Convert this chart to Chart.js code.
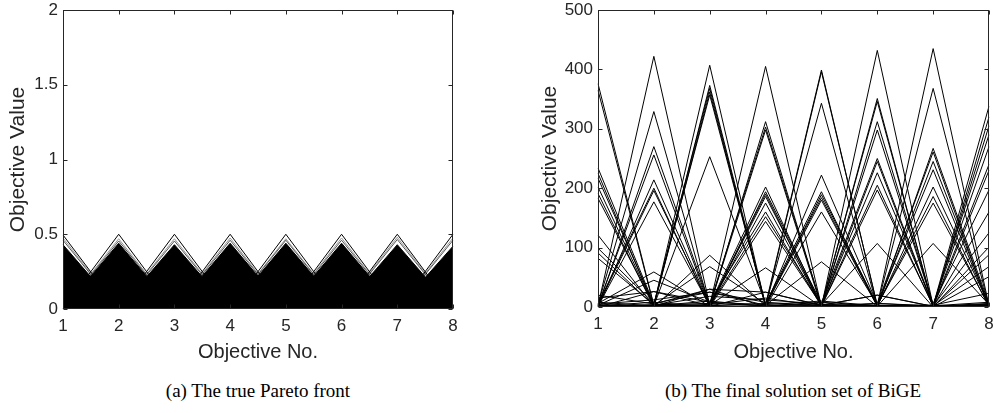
<!DOCTYPE html>
<html>
<head>
<meta charset="utf-8">
<script src="https://cdn.jsdelivr.net/npm/chart.js@4.4.1/dist/chart.umd.min.js"></script>
<style>
body { margin: 0; background: #fff; width: 993px; height: 413px; position: relative; overflow: hidden; }
canvas { position: absolute; top: 0; }
#front { left: 0; }
#bige { left: 520px; }
.caption { position: absolute; top: 380px; font-family: "Liberation Serif", serif; font-size: 19px; color: #000; transform: translateX(-50%); white-space: nowrap; }
</style>
</head>
<body>
<canvas id="front" width="480" height="372"></canvas>
<canvas id="bige" width="473" height="372"></canvas>
<div class="caption" style="left:258px">(a) The true Pareto front</div>
<div class="caption" style="left:793px">(b) The final solution set of BiGE</div>
<script>
const objectives = ['1', '2', '3', '4', '5', '6', '7', '8'];

// true front: value each boundary member takes on its own objective (0 on the others)
const frontOuterPeak = [0.495, 0.5, 0.5, 0.5, 0.5, 0.5, 0.5, 0.5];
const frontGreyPeak = [0.475, 0.47, 0.47, 0.475, 0.47, 0.475, 0.48, 0.475];
const frontGreyPeak2 = [0.46, 0.455, 0.455, 0.46, 0.46, 0.46, 0.465, 0.46];
const frontSolidPeak = [0.43, 0.44, 0.43, 0.44, 0.44, 0.44, 0.43, 0.42];

// BiGE final population, one row per solution
const bigeOdd = [
    [376, 3, 407, 2, 180, 1, 202, 4],
    [365, 2, 373, 4, 399, 2, 368, 1],
    [234, 5, 368, 1, 396, 3, 435, 2],
    [225, 1, 362, 3, 343, 0, 267, 5],
    [217, 4, 357, 2, 222, 5, 261, 0],
    [202, 2, 253, 6, 194, 1, 245, 3],
    [191, 0, 87, 2, 189, 4, 231, 1],
    [183, 3, 68, 5, 184, 2, 186, 0],
    [121, 1, 30, 0, 160, 3, 175, 2],
    [99, 6, 25, 3, 76, 1, 107, 4],
    [91, 2, 10, 1, 8, 2, 3, 1],
    [82, 4, 6, 2, 4, 0, 2, 3]
];
const bigeEven = [
    [2, 422, 3, 405, 1, 432, 2, 338],
    [4, 329, 1, 312, 2, 351, 0, 320],
    [1, 270, 5, 303, 3, 346, 1, 305],
    [3, 256, 2, 298, 0, 312, 4, 290],
    [0, 214, 4, 202, 2, 298, 3, 270],
    [5, 200, 0, 194, 6, 250, 2, 240],
    [2, 196, 3, 190, 1, 245, 0, 230],
    [1, 177, 2, 186, 3, 226, 5, 197],
    [6, 59, 1, 175, 2, 205, 1, 160],
    [3, 45, 8, 160, 1, 197, 2, 125],
    [0, 26, 2, 152, 4, 107, 0, 101],
    [2, 8, 0, 144, 3, 20, 1, 88],
    [1, 4, 3, 66, 0, 6, 2, 68],
    [4, 2, 1, 25, 2, 3, 0, 51],
    [0, 3, 2, 6, 1, 2, 3, 23]
];
const bigeLow = [
    [20, 5, 30, 25, 3, 20, 1, 6],
    [15, 26, 8, 4, 10, 2, 0, 5],
    [5, 12, 25, 8, 2, 6, 1, 3],
    [0, 3, 18, 12, 5, 1, 2, 8],
    [8, 2, 4, 15, 1, 3, 0, 2],
    [2, 1, 0, 2, 1, 0, 1, 0],
    [1, 0, 2, 1, 0, 1, 0, 2],
    [3, 1, 1, 0, 2, 1, 2, 4],
    [1, 2, 0, 1, 1, 2, 1, 3]
];

const axisColor = '#262626';
const tickLen = 4;

Chart.defaults.font.family = 'Liberation Sans';
Chart.defaults.animation = false;

// matlab style box: frame round the plot area with inward ticks on all sides
const boxPlugin = {
    id: 'box',
    afterDraw: function(chart) {
	const ctx = chart.ctx;
	const a = chart.chartArea;
	const sx = chart.scales.x;
	const sy = chart.scales.y;
	const l = Math.round(a.left) + 0.5;
	const r = Math.round(a.right) - 0.5;
	const t = Math.round(a.top) + 0.5;
	const b = Math.round(a.bottom) - 0.5;

	ctx.save();
	ctx.strokeStyle = axisColor;
	ctx.lineWidth = 1;
	ctx.strokeRect(l, t, r - l, b - t);
	ctx.beginPath();
	sx.ticks.forEach(function(tk, i) {
	    var x = Math.round(sx.getPixelForTick(i)) + 0.5;
	    ctx.moveTo(x, t); ctx.lineTo(x, t + tickLen);
	    ctx.moveTo(x, b); ctx.lineTo(x, b - tickLen);
	});
	sy.ticks.forEach(function(tk, i) {
	    var y = Math.round(sy.getPixelForTick(i)) + 0.5;
	    ctx.moveTo(l, y); ctx.lineTo(l + tickLen, y);
	    ctx.moveTo(r, y); ctx.lineTo(r - tickLen, y);
	});
	ctx.stroke();
	ctx.restore();
    }
};

function peakRow(k, v)
{
    return objectives.map(function(o, j) { return j == k ? v : 0; });
}

function lineSet(data, color, fill)
{
    return {
	data: data,
	borderColor: color,
	backgroundColor: color,
	borderWidth: 1,
	pointRadius: 0,
	tension: 0,
	fill: fill ? 'origin' : false
    };
}

function axes(ymax, step, xHeight, yWidth, yTitlePad)
{
    return {
	x: {
	    type: 'category',
	    offset: false,
	    grid: { display: false, drawTicks: false },
	    border: { display: false },
	    ticks: { color: axisColor, font: { size: 17 }, padding: 7, maxRotation: 0, autoSkip: false },
	    title: { display: true, text: 'Objective No.', color: axisColor,
		     font: { size: 20 }, padding: { top: 0, bottom: 8 } },
	    afterFit: function(s) { s.height = xHeight; s.paddingLeft = 0; s.paddingRight = 0; }
	},
	y: {
	    min: 0,
	    max: ymax,
	    grid: { display: false, drawTicks: false },
	    border: { display: false },
	    ticks: { stepSize: step, color: axisColor, font: { size: 17 }, padding: 5,
		     callback: function(v) { return String(v); } },
	    title: { display: true, text: 'Objective Value', color: axisColor,
		     font: { size: 21 }, padding: { top: yTitlePad, bottom: 0 } },
	    afterFit: function(s) { s.width = yWidth; s.paddingTop = 0; s.paddingBottom = 0; }
	}
    };
}

function draw_front()
{
    var sets = [];
    // first datasets end up on top
    frontOuterPeak.forEach(function(v, k) { sets.push(lineSet(peakRow(k, v), '#000', false)); });
    frontSolidPeak.forEach(function(v, k) { sets.push(lineSet(peakRow(k, v), '#000', true)); });
    frontGreyPeak2.forEach(function(v, k) { sets.push(lineSet(peakRow(k, v), '#555', false)); });
    frontGreyPeak.forEach(function(v, k) { sets.push(lineSet(peakRow(k, v), '#999', false)); });

    new Chart(document.getElementById('front'), {
	type: 'line',
	data: { labels: objectives, datasets: sets },
	options: {
	    responsive: false,
	    devicePixelRatio: 1,
	    events: [],
	    layout: { padding: { left: 0, top: 10, right: 27, bottom: 0 } },
	    plugins: { legend: { display: false }, tooltip: { enabled: false } },
	    scales: axes(2, 0.5, 63, 63, 6)
	},
	plugins: [boxPlugin]
    });
}

function draw_bige()
{
    var rows = bigeOdd.concat(bigeEven, bigeLow);
    var sets = rows.map(function(r) { return lineSet(r, '#000', false); });

    new Chart(document.getElementById('bige'), {
	type: 'line',
	data: { labels: objectives, datasets: sets },
	options: {
	    responsive: false,
	    devicePixelRatio: 1,
	    events: [],
	    layout: { padding: { left: 0, top: 10, right: 4, bottom: 0 } },
	    plugins: { legend: { display: false }, tooltip: { enabled: false } },
	    scales: axes(500, 100, 65, 78, 18)
	},
	plugins: [boxPlugin]
    });
}

draw_front();
draw_bige();
</script>
</body>
</html>
